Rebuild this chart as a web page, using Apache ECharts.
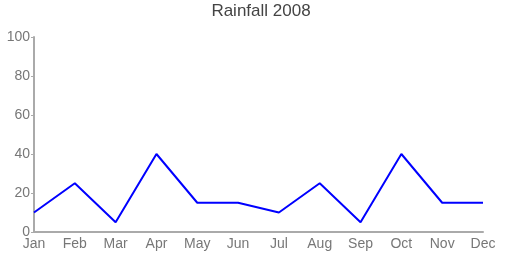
<!DOCTYPE html>
<html><head><meta charset="utf-8">
<script src="https://cdn.jsdelivr.net/npm/echarts@6/dist/echarts.min.js"></script>
<style>html,body{margin:0;padding:0;background:#fff}#c{width:522px;height:266px}</style>
</head><body><div id="c"></div>
<script>
const categories = ['Jan','Feb','Mar','Apr','May','Jun','Jul','Aug','Sep','Oct','Nov','Dec'];
const rainfall = [10,25,5,40,15,15,10,25,5,40,15,15];
const yTicks = [0,20,40,60,80,100];
const FONT = 'Liberation Sans, Arial, sans-serif';
const chart = echarts.init(document.getElementById('c'), null, {renderer:'canvas'});
chart.setOption({
  animation:false,
  title:{text:'Rainfall 2008', left:'center', top:3, padding:[0,0,0,0], textStyle:{fontFamily:FONT, fontWeight:'normal', fontSize:17, color:'#444'}},
  grid:{left:34, right:39, top:37, bottom:34, containLabel:false},
  xAxis:{type:'category', data:categories, boundaryGap:false,
    axisLine:{lineStyle:{color:'#aaa', width:2}}, axisTick:{show:false},
    axisLabel:{color:'#777', fontSize:14, fontFamily:FONT, margin:5, interval:0}, splitLine:{show:false}},
  yAxis:{type:'value', min:yTicks[0], max:yTicks[yTicks.length-1], interval:20,
    axisLine:{show:true, lineStyle:{color:'#aaa', width:2}}, axisTick:{show:true, length:3, lineStyle:{color:'#aaa'}},
    axisLabel:{color:'#777', fontSize:14, fontFamily:FONT, margin:4}, splitLine:{show:false}},
  series:[{type:'line', data:rainfall, symbol:'none', lineStyle:{color:'#0000ff', width:2}}]
});
</script></body></html>
